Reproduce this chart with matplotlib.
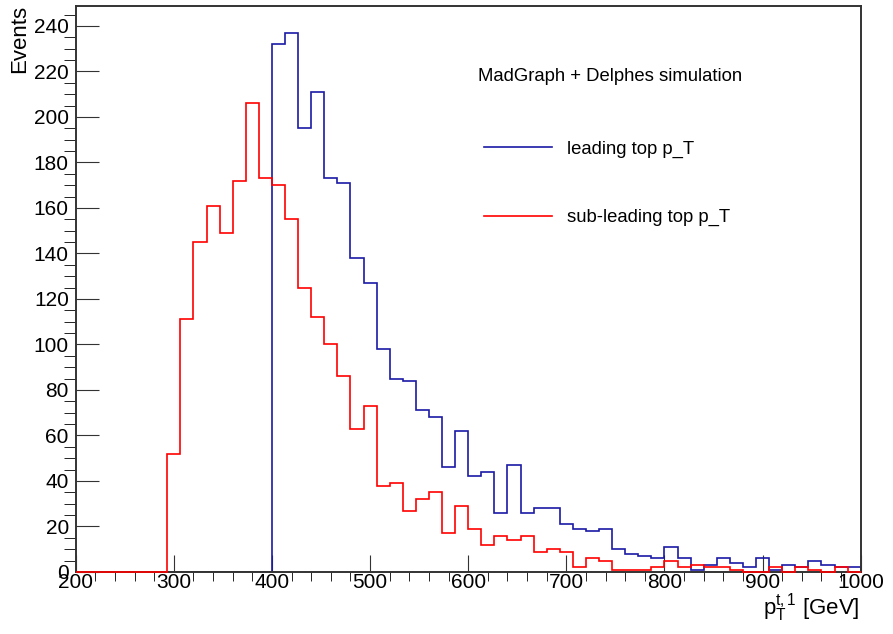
import numpy as np
import matplotlib
matplotlib.use("Agg")
import matplotlib.pyplot as plt
from matplotlib.lines import Line2D

plt.rcParams["font.family"] = ["Liberation Sans", "DejaVu Sans"]
plt.rcParams["mathtext.fontset"] = "custom"
plt.rcParams["mathtext.rm"] = "Liberation Sans"
plt.rcParams["mathtext.it"] = "Liberation Sans:italic"

# --- histogram definition: 60 bins from 200 to 1000 GeV ---
x_min, x_max, n_bins = 200, 1000, 60
edges = np.linspace(x_min, x_max, n_bins + 1)

leading_counts = [
    0, 0, 0, 0, 0, 0, 0, 0, 0, 0,
    0, 0, 0, 0, 0, 232, 237, 195, 211, 173,
    171, 138, 127, 98, 85, 84, 71, 68, 46, 62,
    42, 44, 26, 47, 26, 28, 28, 21, 19, 18,
    19, 10, 8, 7, 6, 11, 6, 1, 3, 6,
    4, 2, 6, 1, 3, 2, 5, 3, 2, 2,
]
subleading_counts = [
    0, 0, 0, 0, 0, 0, 0, 52, 111, 145,
    161, 149, 172, 206, 173, 170, 155, 125, 112, 100,
    86, 63, 73, 38, 39, 27, 32, 35, 17, 29,
    19, 12, 16, 14, 16, 9, 10, 9, 2, 6,
    5, 1, 1, 1, 2, 5, 2, 3, 2, 2,
    1, 0, 0, 2, 0, 2, 1, 0, 2, 0,
]

header = "MadGraph + Delphes simulation"
labels = ["leading top p_T", "sub-leading top p_T"]
colors = ["#1a1aa6", "#ff0000"]

fig = plt.figure(figsize=(8.93, 6.34), dpi=100)
ax = fig.add_axes([0.0848, 0.0978, 0.879, 0.893])

# first histogram sits under the frame, the "same" one is drawn over it
ax.stairs(leading_counts, edges, color=colors[0], lw=1.2, zorder=2)
ax.stairs(subleading_counts, edges, color=colors[1], lw=1.2, zorder=3,
          clip_on=False)

ax.set_xlim(x_min, x_max)
ax.set_ylim(0, 1.05 * max(leading_counts))

ax.set_xticks(np.arange(200, 1001, 100))
ax.set_xticks(np.arange(200, 1001, 20), minor=True)
ax.set_yticks(np.arange(0, 241, 20))
ax.set_yticks(np.arange(0, 246, 5), minor=True)
ax.tick_params(axis="both", direction="in", labelsize=15, width=0.8, color="#333333")
ax.tick_params(axis="x", which="major", length=12, pad=1)
ax.tick_params(axis="x", which="minor", length=6.5)
ax.tick_params(axis="y", which="major", length=16.5, pad=5)
ax.tick_params(axis="y", which="minor", length=8.5)
for sp in ax.spines.values():
    sp.set_linewidth(1.4)
    sp.set_color("#333333")
    sp.set_zorder(2.5)

fig.text(0.963, 0.030, r"$\mathrm{p}_\mathrm{T}^{\mathrm{t,1}}$ [GeV]",
         ha="right", va="baseline", fontsize=16)
fig.text(0.022, 0.992, "Events", rotation=90, ha="center", va="top", fontsize=16)

fig.text(0.535, 0.879, header, ha="left", va="center", fontsize=13.3)
handles = [Line2D([], [], color=c, lw=1.2) for c in colors]
ax.legend(handles, labels, loc="upper left", bbox_to_anchor=(0.542, 0.7785),
          bbox_transform=fig.transFigure, frameon=False, fontsize=13.3,
          handlelength=3.7, handletextpad=0.8, labelspacing=2.78,
          borderpad=0, borderaxespad=0)

fig.savefig("out.png", dpi=100)
